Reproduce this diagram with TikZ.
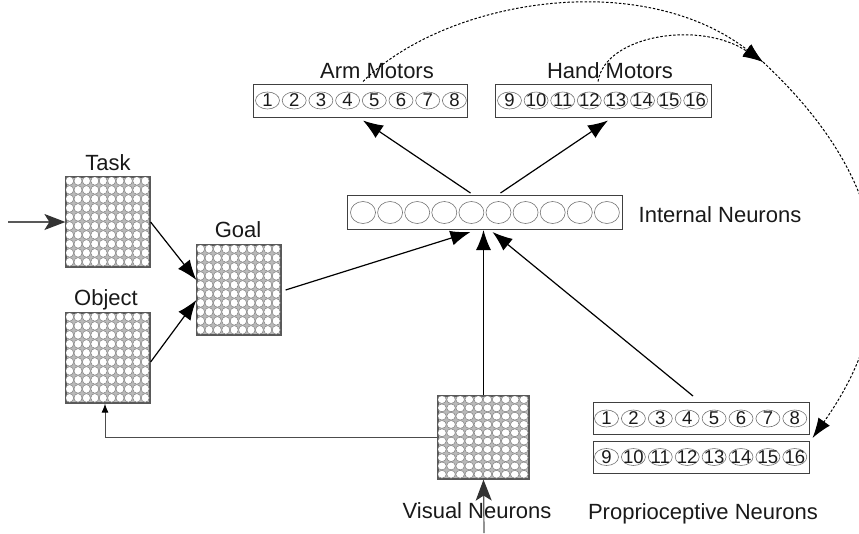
\documentclass[tikz,border=0pt]{standalone}
\usepackage{fontspec}
\setmainfont{Liberation Sans}
\usetikzlibrary{arrows.meta, calc}

\tikzset{
    lbl/.style={font=\fontsize{22}{26}\selectfont, anchor=base, inner sep=0, text=black!90},
    num/.style={font=\fontsize{18.5}{22}\selectfont, inner sep=0, text=black!90},
    cellline/.style={draw=black!55, line width=.6pt},
    gridcell/.style={draw=black!50, fill=white, line width=.5pt},
    layerbox/.style={draw=black!75, line width=1pt, inner sep=0},
    gridbox/.style={draw=black!65, line width=1.2pt, fill=gray!55, inner sep=0},
    conn/.style={black, line width=1.2pt, -{Latex[length=20pt,width=15pt]}},
    smallconn/.style={black!70, line width=1pt, -{Latex[length=9pt,width=7pt,color=black]}},
    inflow/.style={black!65, line width=1.2pt, -{Stealth[length=21pt,width=16pt,inset=5pt,color=black!80]}},
    feed/.style={black, line width=1pt, dash pattern=on 2.5pt off 1.8pt, -{Latex[length=20pt,width=14pt]}},
}

\begin{document}
\begin{tikzpicture}[x=1pt,y=-1pt]
    \useasboundingbox (0,0) rectangle (859,533);

    % neuron grids
    \node[gridbox, minimum width=84, minimum height=90] (task) at (108,222) {};
    \node[gridbox, minimum width=84, minimum height=90] (object) at (108,358) {};
    \node[gridbox, minimum width=84, minimum height=90] (goal) at (239,290) {};
    \node[gridbox, minimum width=91, minimum height=83] (visual) at (483.5,437.5) {};
    \foreach \g/\w/\h/\rx/\ry in {task/84/90/4.0/4.3, object/84/90/4.0/4.3, goal/84/90/4.0/4.3, visual/91/83/4.3/3.9} {
        \foreach \i in {0,...,9} {
            \foreach \j in {0,...,9} {
                \draw[gridcell] ($(\g.north west)+({(\i+.5)*\w/10},{(\j+.5)*\h/10})$) ellipse (\rx pt and \ry pt);
            }
        }
        \draw[black!65, line width=1.2pt] (\g.north west) rectangle (\g.south east);
    }

    % layers of numbered units
    \node[layerbox, minimum width=214, minimum height=33] (arm) at (360,100.5) {};
    \node[layerbox, minimum width=216, minimum height=33] (hand) at (603,100.5) {};
    \node[layerbox, minimum width=275, minimum height=34] (internal) at (484.5,212.5) {};
    \node[layerbox, minimum width=216, minimum height=32] (proprioA) at (701,418.5) {};
    \node[layerbox, minimum width=216, minimum height=32] (proprioB) at (701,457) {};
    \foreach \n [count=\k from 0] in {1,...,8} {
        \draw[cellline] ($(arm.west)+(15+26.7*\k,0)$) ellipse (12pt and 8.5pt);
        \node[num] (arm\n) at ($(arm.west)+(15+26.7*\k,0)$) {\n};
        \draw[cellline] ($(proprioA.west)+(14+26.9*\k,0)$) ellipse (12pt and 8.5pt);
        \node[num] (propA\n) at ($(proprioA.west)+(14+26.9*\k,0)$) {\n};
    }
    \foreach \n [count=\k from 0] in {9,...,16} {
        \draw[cellline] ($(hand.west)+(15+26.6*\k,0)$) ellipse (12pt and 8.5pt);
        \node[num] (hand\n) at ($(hand.west)+(15+26.6*\k,0)$) {\n};
        \draw[cellline] ($(proprioB.west)+(14+26.9*\k,0)$) ellipse (12pt and 8.5pt);
        \node[num] (propB\n) at ($(proprioB.west)+(14+26.9*\k,0)$) {\n};
    }
    \foreach \k in {0,...,9} {
        \draw[cellline] ($(internal.west)+(16.5+27.1*\k,0)$) ellipse (12.5pt and 11pt);
    }

    % labels
    \node[lbl] (tasklbl) at (108,170) {Task};
    \node[lbl] (objectlbl) at (106,305) {Object};
    \node[lbl] (goallbl) at (238,237) {Goal};
    \node[lbl] (armlbl) at (377,78) {Arm Motors};
    \node[lbl] (handlbl) at (610,78) {Hand Motors};
    \node[lbl] (internallbl) at (720,222) {Internal Neurons};
    \node[lbl] (visuallbl) at (477,518) {Visual Neurons};
    \node[lbl] (propriolbl) at (703,519) {Proprioceptive Neurons};

    % inputs
    \coordinate (taskin) at (8,222);
    \coordinate (visin) at (484,533);
    \draw[inflow] (taskin) -- (task.west);
    \draw[inflow] (visin) -- (visual.south);

    % forward connections
    \draw[conn] (task.east) -- ($(goal.west)+(0,-10)$);
    \draw[conn] ($(object.east)+(0,4)$) -- ($(goal.west)+(0,10)$);
    \draw[conn] ($(goal.east)+(4,0)$) -- ($(internal.south)+(-14,2)$);
    \draw[conn] (visual.north) -- (visual.north |- internal.south);
    \draw[conn] ($(proprioA.north)+(-8,-6)$) -- ($(internal.south)+(8,2)$);
    \draw[conn] ($(internal.north)+(-14,-2)$) -- ($(arm.south)+(3,3)$);
    \draw[conn] ($(internal.north)+(16,-2)$) -- ($(hand.south)+(5,3)$);
    \draw[smallconn] (visual.west) -| ($(object.south)+(-3,0)$);

    % feedback to proprioception
    \coordinate (junc) at (763,62);
    \coordinate (propin) at ($(proprioA.south east)+(3,3)$);
    \draw[feed] ($(arm.north)+(3,-2)$) .. controls (445,0) and (640,-33) .. (junc);
    \draw[feed] ($(hand.north)+(-5,-2)$) .. controls (605,35) and (700,20) .. (junc);
    \draw[feed] (junc) .. controls (899,189) and (902,312) .. (propin);
\end{tikzpicture}
\end{document}
